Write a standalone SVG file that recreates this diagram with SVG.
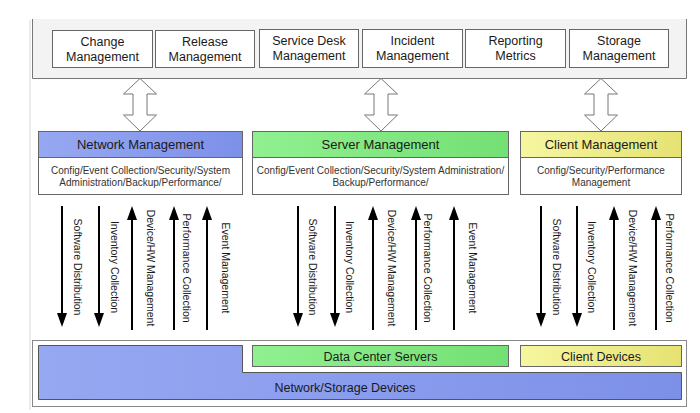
<svg xmlns="http://www.w3.org/2000/svg" width="700" height="413" viewBox="0 0 700 413">
<defs>
<linearGradient id="gBlue" x1="0" y1="0" x2="1" y2="0"><stop offset="0" stop-color="#97a8f2"/><stop offset="1" stop-color="#7d90e8"/></linearGradient>
<linearGradient id="gGreen" x1="0" y1="0" x2="1" y2="0"><stop offset="0" stop-color="#90f090"/><stop offset="1" stop-color="#74e074"/></linearGradient>
<linearGradient id="gYellow" x1="0" y1="0" x2="1" y2="0"><stop offset="0" stop-color="#f6f6a0"/><stop offset="1" stop-color="#e6e272"/></linearGradient>
<marker id="ah" markerUnits="userSpaceOnUse" markerWidth="14" markerHeight="10" viewBox="0 0 14 10" refX="0" refY="5" orient="auto"><path d="M0,0 L14,5 L0,10 z" fill="#000"/></marker>
<style>
.t{font-family:"Liberation Sans",Arial,sans-serif;fill:#1a1a1a;text-anchor:middle}
.top{font-size:12.5px}
.hd{font-size:13px}
.bd{font-size:10px;fill:#333}
.lb{font-size:10.5px}
.box{fill:#fff;stroke:#666;stroke-width:1}
.hb{stroke:#666;stroke-width:1}
.dbl{fill:#fff;stroke:#777;stroke-width:1}
.ar{stroke:#000;stroke-width:2;fill:none;marker-end:url(#ah)}
</style>
</defs>
<rect width="700" height="413" fill="#fff"/>
<line x1="30" y1="20" x2="30" y2="410" stroke="#d8d8d8" stroke-width="1"/>
<g id="top-panel">
<rect x="32" y="19" width="655" height="59" fill="#f3f3f3"/>
<path d="M32.5,19 V78.5 H686.5 V19" fill="none" stroke="#777" stroke-width="1"/>
</g>
<g id="change-mgmt"><rect class="box" x="52.5" y="30.5" width="100" height="37"/><text class="t top" x="102.5" y="46">Change</text><text class="t top" x="102.5" y="61">Management</text></g>
<g id="release-mgmt"><rect class="box" x="155.5" y="30.5" width="99" height="37"/><text class="t top" x="205" y="46">Release</text><text class="t top" x="205" y="61">Management</text></g>
<g id="service-desk"><rect class="box" x="259.5" y="29.5" width="99" height="38"/><text class="t top" x="309" y="45">Service Desk</text><text class="t top" x="309" y="60">Management</text></g>
<g id="incident-mgmt"><rect class="box" x="362.5" y="29.5" width="100" height="38"/><text class="t top" x="412.5" y="45">Incident</text><text class="t top" x="412.5" y="59.5">Management</text></g>
<g id="reporting"><rect class="box" x="465.5" y="29.5" width="100" height="38"/><text class="t top" x="515.5" y="45">Reporting</text><text class="t top" x="515.5" y="59.5">Metrics</text></g>
<g id="storage-mgmt"><rect class="box" x="569.5" y="29.5" width="99" height="38"/><text class="t top" x="619" y="45">Storage</text><text class="t top" x="619" y="59.5">Management</text></g>
<g id="link-arrows">
<polygon class="dbl" points="140,78.5 156.5,94 147,94 147,115 156.5,115 140,131 123.5,115 133,115 133,94 123.5,94"/>
<polygon class="dbl" points="381,78.5 397.5,94 388,94 388,115 397.5,115 381,131 364.5,115 374,115 374,94 364.5,94"/>
<polygon class="dbl" points="601,78.5 617.5,94 608,94 608,115 617.5,115 601,131 584.5,115 594,115 594,94 584.5,94"/>
</g>
<g id="network-mgmt">
<rect class="hb" x="38.5" y="131.5" width="204" height="26" fill="url(#gBlue)"/>
<rect class="box" x="38.5" y="157.5" width="204" height="37"/>
<text class="t hd" x="140.5" y="149">Network Management</text>
<text class="t bd" x="140.5" y="174">Config/Event Collection/Security/System</text>
<text class="t bd" x="140.5" y="185.5">Administration/Backup/Performance/</text>
</g>
<g id="server-mgmt">
<rect class="hb" x="252.5" y="131.5" width="256" height="26" fill="url(#gGreen)"/>
<rect class="box" x="252.5" y="157.5" width="256" height="37"/>
<text class="t hd" x="380.5" y="149">Server Management</text>
<text class="t bd" x="380.5" y="174">Config/Event Collection/Security/System Administration/</text>
<text class="t bd" x="380.5" y="185.5">Backup/Performance/</text>
</g>
<g id="client-mgmt">
<rect class="hb" x="520.5" y="131.5" width="161" height="26" fill="url(#gYellow)"/>
<rect class="box" x="520.5" y="157.5" width="161" height="37"/>
<text class="t hd" x="601" y="149">Client Management</text>
<text class="t bd" x="601" y="174">Config/Security/Performance</text>
<text class="t bd" x="601" y="185.5">Management</text>
</g>
<g id="connectors">
<line class="ar" x1="62" y1="206" x2="62" y2="313"/>
<line class="ar" x1="99" y1="206" x2="99" y2="313"/>
<line class="ar" x1="132" y1="330" x2="132" y2="220"/>
<line class="ar" x1="174" y1="330" x2="174" y2="220"/>
<line class="ar" x1="207" y1="330" x2="207" y2="220"/>
<line class="ar" x1="298" y1="206" x2="298" y2="313"/>
<line class="ar" x1="335" y1="206" x2="335" y2="313"/>
<line class="ar" x1="373" y1="330" x2="373" y2="220"/>
<line class="ar" x1="416" y1="330" x2="416" y2="220"/>
<line class="ar" x1="454" y1="330" x2="454" y2="220"/>
<line class="ar" x1="541" y1="206" x2="541" y2="313"/>
<line class="ar" x1="577" y1="206" x2="577" y2="313"/>
<line class="ar" x1="614" y1="330" x2="614" y2="220"/>
<line class="ar" x1="656" y1="330" x2="656" y2="220"/>
</g>
<g id="connector-labels">
<text class="t lb" transform="translate(78,267) rotate(90)" dy="0.35em">Software Distribution</text>
<text class="t lb" transform="translate(115,267) rotate(90)" dy="0.35em">Inventory Collection</text>
<text class="t lb" transform="translate(151,268) rotate(90)" dy="0.35em">Device/HW Management</text>
<text class="t lb" transform="translate(187,268) rotate(90)" dy="0.35em">Performance Collection</text>
<text class="t lb" transform="translate(226,268) rotate(90)" dy="0.35em">Event Management</text>
<text class="t lb" transform="translate(313,267) rotate(90)" dy="0.35em">Software Distribution</text>
<text class="t lb" transform="translate(350,267) rotate(90)" dy="0.35em">Inventory Collection</text>
<text class="t lb" transform="translate(392,268) rotate(90)" dy="0.35em">Device/HW Management</text>
<text class="t lb" transform="translate(428,268) rotate(90)" dy="0.35em">Performance Collection</text>
<text class="t lb" transform="translate(473,268) rotate(90)" dy="0.35em">Event Management</text>
<text class="t lb" transform="translate(557,267) rotate(90)" dy="0.35em">Software Distribution</text>
<text class="t lb" transform="translate(592,267) rotate(90)" dy="0.35em">Inventory Collection</text>
<text class="t lb" transform="translate(633,268) rotate(90)" dy="0.35em">Device/HW Management</text>
<text class="t lb" transform="translate(670,268) rotate(90)" dy="0.35em">Performance Collection</text>
</g>
<g id="bottom-panel">
<rect x="32.5" y="340.5" width="654" height="66" fill="#fff" stroke="#888" stroke-width="1"/>
</g>
<g id="network-storage">
<path d="M38.5,345.5 H242.5 V372.5 H681.5 V399.5 H38.5 Z" fill="url(#gBlue)" stroke="#555" stroke-width="1"/>
<text class="t top" x="345" y="392">Network/Storage Devices</text>
</g>
<g id="data-center"><rect class="hb" x="252.5" y="345.5" width="256" height="21" fill="url(#gGreen)"/><text class="t top" x="380.5" y="360.5">Data Center Servers</text></g>
<g id="client-devices"><rect class="hb" x="520.5" y="345.5" width="161" height="21" fill="url(#gYellow)"/><text class="t top" x="601" y="360.5">Client Devices</text></g>
</svg>
